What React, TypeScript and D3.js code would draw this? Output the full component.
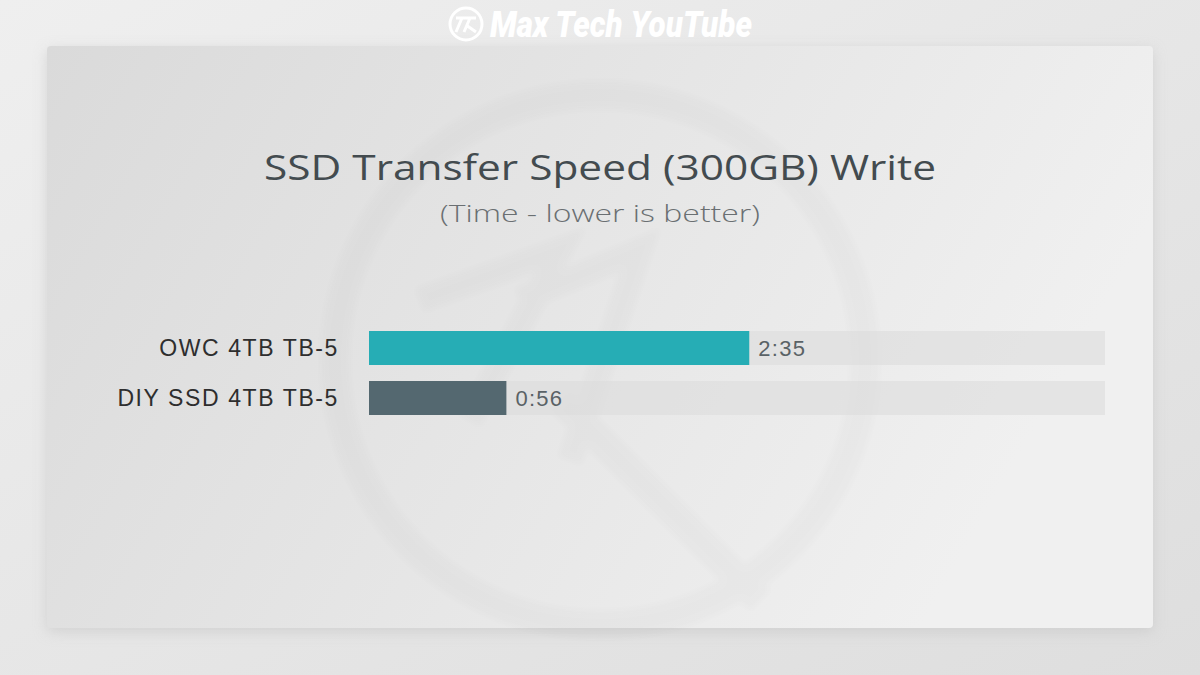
import React from "react";
import * as d3 from "d3";

// Transfer times in seconds (300GB write)
const devices = ["OWC 4TB TB-5", "DIY SSD 4TB TB-5"];
const seconds = [155, 56];
const valueLabels = ["2:35", "0:56"];
const barColors = ["#26adb5", "#546870"];
const maxSeconds = 300;

const W = 1200;
const H = 675;

export default function App() {
  const x = d3.scaleLinear().domain([0, maxSeconds]).range([369, 1105]);
  const y = d3.scaleBand().domain(devices).range([331, 415]).paddingInner(0.32);

  return (
    <svg
      width={W}
      height={H}
      viewBox={`0 0 ${W} ${H}`}
      style={{ position: "fixed", left: 0, top: 0, display: "block" }}
    >
      <defs>
        <linearGradient id="bg" x1="0" y1="0" x2="1" y2="1">
          <stop offset="0" stopColor="#efefef" />
          <stop offset="1" stopColor="#dedede" />
        </linearGradient>
        <linearGradient id="panel" x1="0" y1="0" x2="1" y2="0.3">
          <stop offset="0" stopColor="#dadada" />
          <stop offset="0.55" stopColor="#e6e6e6" />
          <stop offset="1" stopColor="#f0f0f0" />
        </linearGradient>
        <filter id="shadow" x="-10%" y="-10%" width="120%" height="120%">
          <feGaussianBlur stdDeviation="7" />
        </filter>
        <filter id="soft" x="-10%" y="-10%" width="120%" height="120%">
          <feGaussianBlur stdDeviation="3" />
        </filter>
      </defs>

      {/* backdrop */}
      <rect x={0} y={0} width={W} height={H} fill="url(#bg)" />

      {/* panel with soft shadow */}
      <rect x={47} y={50} width={1106} height={582} rx={4} fill="#c4c4c4" opacity={0.6} filter="url(#shadow)" />
      <rect x={47} y={46} width={1106} height={582} rx={4} fill="url(#panel)" />

      {/* faint logo watermark */}
      <g opacity={0.022} stroke="#444" fill="none" filter="url(#soft)">
        <circle cx={600} cy={360} r={265} strokeWidth={28} />
        <path d="M 420 300 L 560 250 L 470 420" strokeWidth={24} />
        <path d="M 520 300 L 640 250 L 570 460" strokeWidth={24} />
        <path d="M 560 400 L 760 600" strokeWidth={28} />
      </g>

      {/* brand header */}
      <g fill="#ffffff">
        <circle cx={466} cy={24} r={16} fill="none" stroke="#fff" strokeWidth={3} />
        <path d="M 456 18 L 476 18 M 462 18 L 456 32 M 470 18 L 464 32 M 466 25 L 476 32" stroke="#fff" strokeWidth={3} fill="none" />
        <text
          x={490}
          y={37}
          fontFamily="Roboto, sans-serif"
          fontWeight={900}
          fontStyle="italic"
          fontSize={36}
          textLength={262}
          lengthAdjust="spacingAndGlyphs"
        >
          Max Tech YouTube
        </text>
      </g>

      {/* titles */}
      <text
        x={600}
        y={180}
        textAnchor="middle"
        fontFamily="'Open Sans', sans-serif"
        fontSize={34}
        fill="#434b4f"
        textLength={672}
        lengthAdjust="spacingAndGlyphs"
      >
        SSD Transfer Speed (300GB) Write
      </text>
      <text
        x={600}
        y={222}
        textAnchor="middle"
        fontFamily="'Open Sans', sans-serif"
        fontWeight={300}
        fontSize={24}
        fill="#6a6f72"
        textLength={320}
        lengthAdjust="spacingAndGlyphs"
      >
        (Time - lower is better)
      </text>

      {/* bars */}
      {devices.map((d, i) => {
        const by = y(d) as number;
        const bh = y.bandwidth();
        return (
          <g key={d}>
            <rect x={x(0)} y={by} width={x(maxSeconds) - x(0)} height={bh} fill="#dcdcdc" opacity={0.6} />
            <rect x={x(0)} y={by} width={x(seconds[i]) - x(0)} height={bh} fill={barColors[i]} />
            <text
              x={339}
              y={by + bh / 2}
              dy="0.36em"
              textAnchor="end"
              fontFamily="'Liberation Sans', Arial, sans-serif"
              fontSize={23}
              letterSpacing={1.6}
              fill="#2e2e2e"
            >
              {d}
            </text>
            <text
              x={x(seconds[i]) + 9}
              y={by + bh / 2}
              dy="0.36em"
              fontFamily="'Liberation Sans', Arial, sans-serif"
              fontSize={22}
              letterSpacing={1.3}
              fill="#5a6266"
            >
              {valueLabels[i]}
            </text>
          </g>
        );
      })}
    </svg>
  );
}
